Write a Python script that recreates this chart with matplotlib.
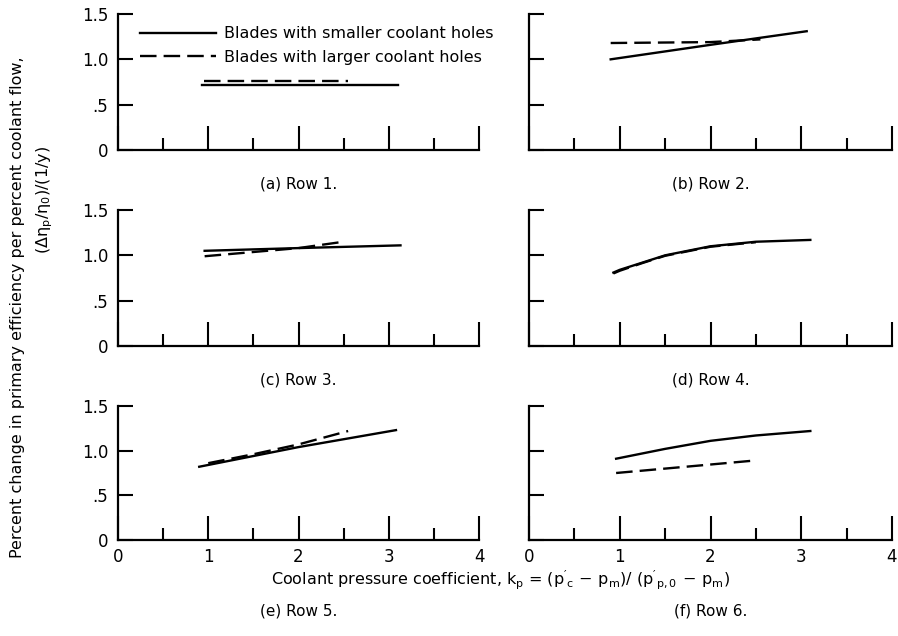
import numpy as np
import matplotlib
matplotlib.use("Agg")
import matplotlib.pyplot as plt

plt.rcParams['font.family'] = ['DejaVu Sans']
plt.rcParams['mathtext.default'] = 'regular'

# values (x = k_p, y = efficiency ratio)
captions = ['(a) Row 1.', '(b) Row 2.', '(c) Row 3.', '(d) Row 4.', '(e) Row 5.', '(f) Row 6.']

small_x = [[0.93, 3.10],
           [0.90, 2.00, 3.06],
           [0.96, 2.00, 3.13],
           [0.93, 1.00, 1.25, 1.50, 2.00, 2.50, 3.10],
           [0.90, 1.50, 2.00, 3.08],
           [0.96, 1.50, 2.00, 2.50, 3.10]]
small_y = [[0.72, 0.72],
           [1.00, 1.16, 1.31],
           [1.05, 1.08, 1.11],
           [0.81, 0.84, 0.92, 1.00, 1.10, 1.15, 1.17],
           [0.82, 0.94, 1.04, 1.23],
           [0.91, 1.02, 1.11, 1.17, 1.22]]

large_x = [[0.95, 2.55],
           [0.90, 2.00, 2.55],
           [0.96, 2.00, 2.50],
           [0.93, 1.00, 1.25, 1.50, 2.00, 2.50],
           [1.00, 1.50, 2.00, 2.55],
           [0.96, 2.00, 2.49]]
large_y = [[0.76, 0.76],
           [1.18, 1.19, 1.22],
           [0.99, 1.08, 1.15],
           [0.80, 0.83, 0.915, 0.995, 1.095, 1.145],
           [0.86, 0.96, 1.07, 1.22],
           [0.75, 0.845, 0.89]]

x_ticks = [0, 1, 2, 3, 4]
x_minor = [0.5, 1.5, 2.5, 3.5]
y_ticks = [0, 0.5, 1.0, 1.5]
y_labels = ['0', '.5', '1.0', '1.5']

W, H = 898, 636
fig = plt.figure(figsize=(W / 100, H / 100), dpi=100)

# axes boxes in pixels: left/right, bottom/top (measured from the top edge)
col_px = [(118, 479), (529, 892)]
row_px = [(150, 14), (346, 210), (540, 406)]

lw = 1.7
for i in range(6):
    r, c = divmod(i, 2)
    x0, x1 = col_px[c]
    yb, yt = row_px[r]
    ax = fig.add_axes([x0 / W, 1 - yb / H, (x1 - x0) / W, (yb - yt) / H])

    ax.plot(small_x[i], small_y[i], color='black', lw=lw,
            label='Blades with smaller coolant holes')
    ax.plot(large_x[i], large_y[i], color='black', lw=lw, dashes=(7, 3),
            label='Blades with larger coolant holes')

    ax.set_xlim(0, 4)
    ax.set_ylim(0, 1.5)
    for s in ['top', 'right']:
        ax.spines[s].set_visible(False)
    for s in ['left', 'bottom']:
        ax.spines[s].set_linewidth(1.6)

    ax.set_xticks(x_ticks)
    ax.set_xticks(x_minor, minor=True)
    ax.set_yticks(y_ticks)
    ax.tick_params(axis='x', which='major', direction='in', length=17, width=1.5, pad=6, labelsize=12)
    ax.tick_params(axis='x', which='minor', direction='in', length=8.5, width=1.5)
    ax.tick_params(axis='y', which='major', direction='in', length=11, width=1.5, pad=7, labelsize=12)

    if r == 2:
        ax.set_xticklabels([str(t) for t in x_ticks])
    else:
        ax.set_xticklabels([])
    if c == 0:
        ax.set_yticklabels(y_labels)
    else:
        ax.set_yticklabels([])

    cap_off = -0.25 if r < 2 else -0.53
    ax.text(0.5, cap_off, captions[i], transform=ax.transAxes,
            ha='center', va='center', fontsize=11)

    if i == 0:
        ax.legend(loc='upper left', bbox_to_anchor=(0.06, 0.91), frameon=False,
                  fontsize=11.5, handlelength=4.8, handletextpad=0.45,
                  labelspacing=0.55, borderpad=0, borderaxespad=0)

fig.text(500 / W, 1 - 580 / H,
         r"Coolant pressure coefficient, $k_p$ = $(p'_c\,-\,p_m)/\ (p'_{p,0}\,-\,p_m)$",
         ha='center', va='center', fontsize=11.5)
fig.text(18 / W, 1 - 307 / H,
         'Percent change in primary efficiency per percent coolant flow,',
         rotation=90, ha='center', va='center', fontsize=11.5)
fig.text(45 / W, 1 - 200 / H, r'$(\Delta\eta_p/\eta_0)/(1/y)$',
         rotation=90, ha='center', va='center', fontsize=11.5)

fig.savefig('out.png', dpi=100)
